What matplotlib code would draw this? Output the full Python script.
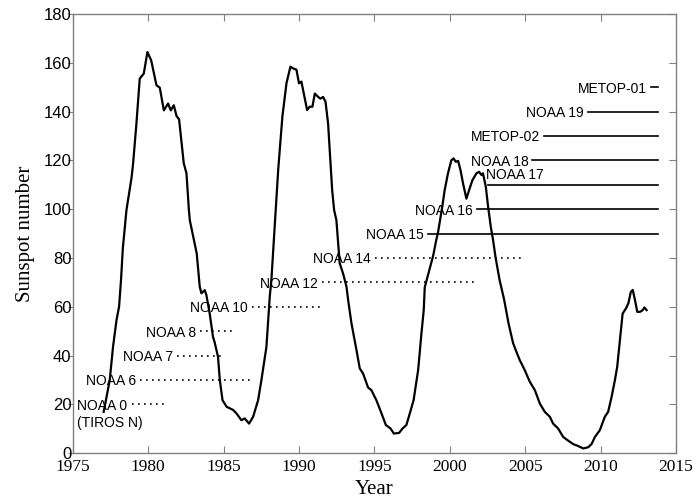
import numpy as np
import matplotlib
matplotlib.use('Agg')
import matplotlib.pyplot as plt

# smoothed sunspot number
years = [1977.05, 1977.45, 1977.67, 1977.9, 1978.07, 1978.2, 1978.32, 1978.56, 1978.9, 1979.0,
         1979.22, 1979.44, 1979.71, 1979.95, 1980.2, 1980.55, 1980.77, 1981.04, 1981.32, 1981.5,
         1981.7, 1981.88, 1982.05, 1982.2, 1982.36, 1982.54, 1982.7, 1982.76, 1983.22, 1983.42,
         1983.53, 1983.75, 1983.86, 1984.08, 1984.3, 1984.4, 1984.63, 1984.75, 1984.93, 1985.2,
         1985.63, 1985.85, 1986.18, 1986.4, 1986.69, 1986.96, 1987.29, 1987.51, 1987.84, 1988.06,
         1988.17, 1988.46, 1988.62, 1988.9, 1989.17, 1989.43, 1989.61, 1989.83, 1990.0, 1990.16,
         1990.32, 1990.54, 1990.71, 1990.89, 1991.05, 1991.27, 1991.42, 1991.6, 1991.76, 1991.93,
         1992.09, 1992.2, 1992.33, 1992.48, 1992.7, 1992.92, 1993.15, 1993.26, 1993.48, 1993.81,
         1994.03, 1994.25, 1994.58, 1994.8, 1995.13, 1995.47, 1995.76, 1996.07, 1996.29, 1996.64,
         1996.87, 1997.12, 1997.35, 1997.6, 1997.9, 1998.12, 1998.27, 1998.34, 1998.9, 1999.1,
         1999.22, 1999.5, 1999.66, 1999.88, 2000.1, 2000.25, 2000.4, 2000.55, 2000.71, 2000.88,
         2001.1, 2001.28, 2001.5, 2001.77, 2001.94, 2002.1, 2002.2, 2002.39, 2002.54, 2002.72,
         2002.87, 2003.03, 2003.3, 2003.6, 2003.9, 2004.2, 2004.45, 2004.64, 2004.97, 2005.3,
         2005.64, 2005.97, 2006.3, 2006.63, 2006.85, 2007.18, 2007.52, 2007.85, 2008.18, 2008.51,
         2008.85, 2009.18, 2009.4, 2009.62, 2009.95, 2010.28, 2010.5, 2010.73, 2010.95, 2011.1,
         2011.28, 2011.46, 2011.68, 2011.84, 2012.0, 2012.13, 2012.28, 2012.43, 2012.61, 2012.79,
         2012.9, 2013.05]
ssn = [16.9, 29.8, 43.6, 54.5, 60.0, 71.0, 84.0, 99.6, 113.0, 118.7,
       135.0, 153.5, 155.6, 164.4, 161.0, 150.8, 149.8, 140.5, 143.3, 140.5,
       142.6, 138.2, 136.8, 128.2, 118.8, 114.7, 99.6, 95.5, 81.8, 68.2,
       65.5, 66.8, 64.8, 57.2, 47.6, 45.6, 39.5, 30.0, 21.7, 19.0,
       17.7, 16.3, 13.5, 14.2, 12.1, 14.9, 21.7, 30.0, 43.5, 64.0,
       71.0, 99.6, 116.0, 138.0, 151.6, 158.4, 157.7, 157.2, 151.6, 152.3,
       147.4, 140.6, 142.0, 142.0, 147.4, 146.0, 145.3, 146.0, 144.0, 135.1,
       118.7, 107.8, 99.6, 95.5, 77.8, 73.7, 68.2, 62.7, 53.2, 42.3,
       34.7, 32.6, 26.9, 25.8, 21.7, 16.3, 11.5, 10.1, 8.0, 8.3,
       10.1, 11.5, 16.3, 21.7, 34.0, 49.1, 58.5, 68.0, 81.0, 87.3,
       90.5, 101.0, 107.8, 114.7, 120.0, 120.8, 119.4, 119.8, 116.0, 110.5,
       104.3, 107.8, 111.9, 114.7, 115.3, 114.0, 114.7, 109.1, 101.0, 92.7,
       87.3, 80.4, 71.0, 63.0, 53.0, 45.0, 41.0, 38.1, 34.0, 29.3,
       25.8, 20.3, 16.9, 14.9, 12.1, 10.1, 6.6, 5.1, 3.7, 2.9,
       1.9, 2.4, 3.7, 6.6, 9.4, 14.9, 16.9, 23.1, 30.0, 35.4,
       46.3, 57.2, 59.3, 61.4, 66.0, 66.9, 62.7, 57.9, 57.9, 58.6,
       59.7, 58.6]

# satellites: label, level on the y axis, operating period, dotted or solid
sat_names = ['NOAA 0', 'NOAA 6', 'NOAA 7', 'NOAA 8', 'NOAA 10', 'NOAA 12', 'NOAA 14',
             'NOAA 15', 'NOAA 16', 'NOAA 17', 'NOAA 18', 'METOP-02', 'NOAA 19', 'METOP-01']
sat_level = [20, 30, 40, 50, 60, 70, 80, 90, 100, 110, 120, 130, 140, 150]
sat_start = [1978.91, 1979.46, 1981.9, 1983.44, 1986.87, 1991.51, 1995.05,
             1998.58, 2001.83, 2002.56, 2005.48, 2006.25, 2009.15, 2013.33]
sat_end = [1981.12, 1986.98, 1984.88, 1985.61, 1991.4, 2001.79, 2004.99,
           2013.78, 2013.78, 2013.78, 2013.78, 2013.78, 2013.78, 2013.79]
sat_dotted = [True, True, True, True, True, True, True,
              False, False, False, False, False, False, False]

xticks = [1975, 1980, 1985, 1990, 1995, 2000, 2005, 2010, 2015]
yticks = [0, 20, 40, 60, 80, 100, 120, 140, 160, 180]

sans = ['Liberation Sans', 'DejaVu Sans']
serif = ['Liberation Serif', 'DejaVu Serif']

fig = plt.figure(figsize=(6.93, 5.04), dpi=100)
ax = fig.add_axes([0.105, 0.101, 0.8705, 0.8712])

ax.plot(years, ssn, color='black', lw=1.6, zorder=3)

for i in range(len(sat_names)):
    if sat_dotted[i]:
        ax.plot([sat_start[i], sat_end[i]], [sat_level[i], sat_level[i]], color='black',
                lw=1.2, linestyle=(0, (1, 2.6)))
    else:
        ax.plot([sat_start[i], sat_end[i]], [sat_level[i], sat_level[i]], color='black', lw=1.2)
    if sat_names[i] == 'NOAA 17':
        # this one sits above the start of its line
        ax.annotate(sat_names[i], (sat_start[i], sat_level[i]), xytext=(-2, 4),
                    textcoords='offset points', ha='left', va='baseline',
                    fontsize=10, family=sans)
    else:
        ax.annotate(sat_names[i], (sat_start[i], sat_level[i]), xytext=(-3, 0),
                    textcoords='offset points', ha='right', va='center_baseline',
                    fontsize=10, family=sans)

# second line under NOAA 0
ax.text(1975.27, 13, '(TIROS N)', ha='left', va='center_baseline', fontsize=10, family=sans)

ax.set_xlim(1975, 2015)
ax.set_ylim(0, 180)
ax.set_xticks(xticks)
ax.set_yticks(yticks)
ax.set_xticklabels([str(t) for t in xticks], family=serif, fontsize=12.5)
ax.set_yticklabels([str(t) for t in yticks], family=sans, fontsize=12)

ax.tick_params(axis='x', direction='in', top=True, length=5, width=0.8, color='#808080', pad=4)
ax.tick_params(axis='y', which='both', left=False, right=True, direction='in', length=5,
               width=0.8, color='#808080')
ax.tick_params(axis='y', left=True, labelleft=True, pad=1)
# left ticks point outwards, right ticks inwards
for t in ax.yaxis.get_major_ticks():
    t.tick1line.set_marker(matplotlib.lines.TICKLEFT)
    t.tick1line.set_markersize(3.5)

for s in ax.spines.values():
    s.set_color('#808080')
    s.set_linewidth(1.0)

ax.set_xlabel('Year', family=serif, fontsize=15, labelpad=4)
ax.set_ylabel('Sunspot number', family=serif, fontsize=15, labelpad=6)

plt.savefig('out.png', dpi=100)
